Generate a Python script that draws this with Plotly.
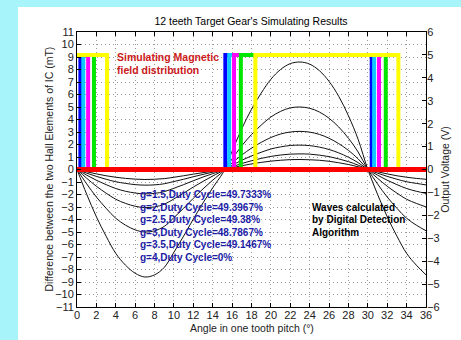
import plotly.graph_objects as go

# ---------------- data ----------------
angle = [0, 1, 2, 3, 4, 5, 6, 7, 8, 9, 10, 11, 12, 13, 14, 15, 15.25,
         16, 17, 18, 19, 20, 21, 22, 23, 24, 25, 26, 27, 28, 29, 30,
         31, 32, 33, 34, 35, 36]

field_g15 = [0, -1.98, -3.78, -5.33, -6.71, -7.65, -8.30, -8.60, -8.43, -7.83, -6.62, -5.33, -3.96, -2.67, -1.46, -0.34, 0,
             1.46, 3.27, 4.82, 6.11, 7.22, 8.00, 8.47, 8.60, 8.43, 7.91, 7.05, 5.85, 4.30, 2.41, 0,
             -1.98, -3.78, -5.33, -6.71, -7.65, -8.43]
field_g20 = [0, -1.15, -2.2, -3.1, -3.9, -4.45, -4.83, -5.0, -4.9, -4.55, -3.85, -3.1, -2.3, -1.55, -0.85, -0.2, 0,
             0.85, 1.9, 2.8, 3.55, 4.2, 4.65, 4.93, 5.0, 4.9, 4.6, 4.1, 3.4, 2.5, 1.4, 0,
             -1.15, -2.2, -3.1, -3.9, -4.45, -4.9]
field_g25 = [0, -0.70, -1.34, -1.89, -2.38, -2.71, -2.94, -3.05, -2.99, -2.78, -2.35, -1.89, -1.40, -0.95, -0.52, -0.12, 0,
             0.52, 1.16, 1.71, 2.17, 2.56, 2.84, 3.00, 3.05, 2.99, 2.81, 2.50, 2.07, 1.53, 0.85, 0,
             -0.70, -1.34, -1.89, -2.38, -2.71, -2.99]
field_g30 = [0, -0.45, -0.86, -1.21, -1.52, -1.74, -1.88, -1.95, -1.91, -1.77, -1.50, -1.21, -0.90, -0.60, -0.33, -0.08, 0,
             0.33, 0.74, 1.09, 1.38, 1.64, 1.81, 1.92, 1.95, 1.91, 1.79, 1.60, 1.33, 0.98, 0.55, 0,
             -0.45, -0.86, -1.21, -1.52, -1.74, -1.91]
field_g35 = [0, -0.29, -0.55, -0.78, -0.98, -1.11, -1.21, -1.25, -1.23, -1.14, -0.96, -0.78, -0.58, -0.39, -0.21, -0.05, 0,
             0.21, 0.48, 0.70, 0.89, 1.05, 1.16, 1.23, 1.25, 1.23, 1.15, 1.03, 0.85, 0.63, 0.35, 0,
             -0.29, -0.55, -0.78, -0.98, -1.11, -1.23]
field_g40 = [0, -0.18, -0.35, -0.50, -0.62, -0.71, -0.77, -0.80, -0.78, -0.73, -0.62, -0.50, -0.37, -0.25, -0.14, -0.03, 0,
             0.14, 0.30, 0.45, 0.57, 0.67, 0.74, 0.79, 0.80, 0.78, 0.74, 0.66, 0.54, 0.40, 0.22, 0,
             -0.18, -0.35, -0.50, -0.62, -0.71, -0.78]

# digital output (V): falling edge, rising edge, second falling edge (deg)
wave_labels = ["g=1.5", "g=2", "g=2.5", "g=3", "g=3.5"]
fall_1 = [0.35, 0.65, 1.15, 1.75, 3.1]
rise_1 = [15.3, 15.7, 16.2, 16.9, 18.4]
fall_2 = [30.4, 30.65, 31.15, 31.85, 33.15]
v_high = 5
v_low = 0
g4_angle = [0, 36]
g4_volt = [0, 0]

duty_text = ["g=1.5,Duty Cycle=49.7333%", "g=2,Duty Cycle=49.3967%", "g=2.5,Duty Cycle=49.38%",
             "g=3,Duty Cycle=48.7867%", "g=3.5,Duty Cycle=49.1467%", "g=4,Duty Cycle=0%"]

x_ticks = list(range(0, 37, 2))
y_ticks = list(range(-11, 12))
y2_ticks = list(range(-6, 7))

# ---------------- figure ----------------
FONT = "Liberation Sans, Arial, sans-serif"
fig = go.Figure()

for vals in [field_g15, field_g20, field_g25, field_g30, field_g35, field_g40]:
    fig.add_trace(go.Scatter(x=angle, y=vals, mode="lines", line=dict(color="#111111", width=1, shape="spline"),
                             showlegend=False, hoverinfo="skip"))

wave_colors = ["#0000ff", "#10c8ff", "#ff00ff", "#00e600", "#ffff00"]
for i, lab in enumerate(wave_labels):
    xs = [0, fall_1[i], fall_1[i], rise_1[i], rise_1[i], fall_2[i], fall_2[i], 36]
    ys = [v_high, v_high, v_low, v_low, v_high, v_high, v_low, v_low]
    fig.add_trace(go.Scatter(x=xs, y=ys, yaxis="y2", mode="lines", name=lab,
                             line=dict(color=wave_colors[i], width=4), showlegend=False))
fig.add_trace(go.Scatter(x=g4_angle, y=g4_volt, yaxis="y2", mode="lines", name="g=4",
                         line=dict(color="#ff0000", width=5), showlegend=False))

annotations = []
for i, t in enumerate(duty_text):
    annotations.append(dict(x=6.3, y=-2 - i, xref="x", yref="y", text="<b>%s</b>" % t, showarrow=False,
                            xanchor="left", yanchor="middle", font=dict(family=FONT, size=10, color="#1c1ca6")))
for i, t in enumerate(["Simulating Magnetic", "field distribution"]):
    annotations.append(dict(x=3.95, y=9 - i, xref="x", yref="y", text="<b>%s</b>" % t, showarrow=False,
                            xanchor="left", yanchor="middle", font=dict(family=FONT, size=10.5, color="#cc1a1a")))
for i, t in enumerate(["Waves calculated", "by Digital Detection", "Algorithm"]):
    annotations.append(dict(x=24.0, y=-3 - i, xref="x", yref="y", text="<b>%s</b>" % t, showarrow=False,
                            xanchor="left", yanchor="middle", font=dict(family=FONT, size=10, color="black")))
# axis titles
annotations.append(dict(x=0.5, y=-0.077, xref="paper", yref="paper", text="Angle in one tooth pitch (°)",
                        showarrow=False, xanchor="center", yanchor="middle",
                        font=dict(family=FONT, size=10.5, color="#222")))
annotations.append(dict(x=-0.083, y=0.5, xref="paper", yref="paper",
                        text="Difference between the two Hall Elements of IC (mT)", textangle=-90,
                        showarrow=False, xanchor="center", yanchor="middle",
                        font=dict(family=FONT, size=10.5, color="#222")))
annotations.append(dict(x=1.052, y=0.5, xref="paper", yref="paper", text="Output Voltage (V)", textangle=-90,
                        showarrow=False, xanchor="center", yanchor="middle",
                        font=dict(family=FONT, size=10.5, color="#222")))

grid = dict(showgrid=True, gridcolor="#9a9a9a", gridwidth=1, griddash="1px,3px")
tickfont = dict(family=FONT, size=11, color="#222")

fig.update_layout(
    width=461, height=340,
    margin=dict(l=77, r=35, t=32, b=32.5, autoexpand=False),
    paper_bgcolor="#a8f4fb", plot_bgcolor="white",
    title=dict(text="12 teeth Target Gear's Simulating Results", x=0.5445, xanchor="center",
               y=1 - 21 / 340, yref="container", yanchor="middle",
               font=dict(family=FONT, size=10.5, color="black")),
    xaxis=dict(range=[0, 36], tickvals=x_ticks, ticks="inside", ticklen=4, tickcolor="black",
               showline=True, linecolor="black", linewidth=1, mirror="ticks", zeroline=False,
               tickfont=tickfont, ticklabelstandoff=-2, **grid),
    yaxis=dict(range=[-11, 11], tickvals=y_ticks, ticks="inside", ticklen=4, tickcolor="black",
               showline=True, linecolor="black", linewidth=1, zeroline=False, tickfont=tickfont, **grid),
    yaxis2=dict(range=[-6, 6], tickvals=y2_ticks, overlaying="y", side="right", ticks="inside", ticklen=4,
                tickcolor="black", showline=True, linecolor="black", linewidth=1, showgrid=False,
                zeroline=False, tickfont=tickfont, ticklabelstandoff=-2),
    shapes=[dict(type="rect", xref="paper", yref="paper", x0=(18 - 77) / 349, x1=1.3,
                 y0=-0.3, y1=(307.5 - 7) / 275.5, fillcolor="white", line=dict(width=0), layer="below")],
    annotations=annotations,
    showlegend=False,
)

fig.write_html("out.html", config={"displayModeBar": False},
               post_script="document.body.style.margin='0';document.body.style.overflow='hidden';")
